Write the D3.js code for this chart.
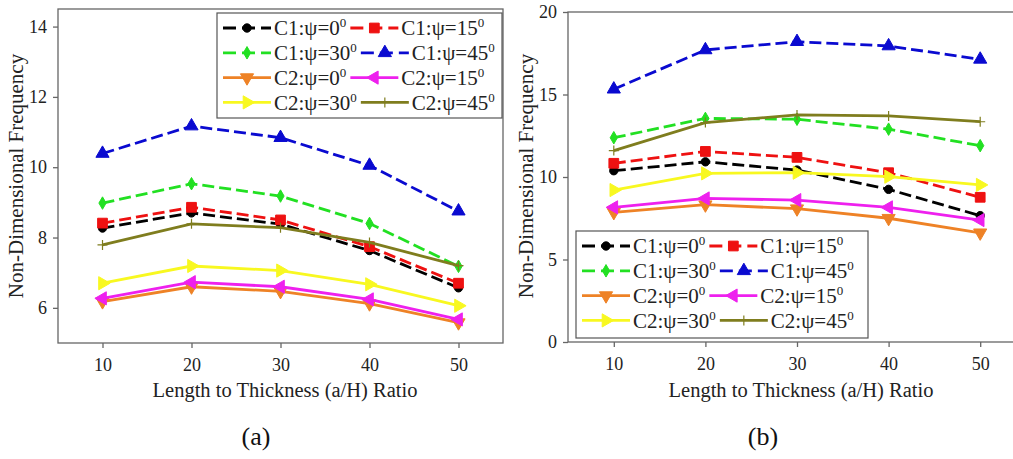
<!DOCTYPE html>
<html>
<head>
<meta charset="utf-8">
<script src="https://cdn.jsdelivr.net/npm/d3@7"></script>
<style>
  body { margin: 0; background: #fff; }
  svg { display: block; font-family: "Liberation Serif", "Times New Roman", serif; }
  .tick text { fill: #222; font-size: 18px; font-family: "Liberation Serif", "Times New Roman", serif; }
  .tick line, .domain { stroke: #666; stroke-width: 1.3; }
</style>
</head>
<body>
<div id="chart"></div>
<script>
const ratios = [10, 20, 30, 40, 50];

// panel (a)
const aC1_0 = [8.27, 8.7, 8.38, 7.63, 6.57];
const aC1_15 = [8.41, 8.86, 8.5, 7.74, 6.7];
const aC1_30 = [8.98, 9.53, 9.18, 8.4, 7.18];
const aC1_45 = [10.39, 11.17, 10.84, 10.05, 8.75];
const aC2_0 = [6.18, 6.6, 6.47, 6.12, 5.58];
const aC2_15 = [6.27, 6.73, 6.6, 6.24, 5.67];
const aC2_30 = [6.7, 7.19, 7.06, 6.67, 6.06];
const aC2_45 = [7.79, 8.39, 8.28, 7.86, 7.2];

// panel (b)
const bC1_0 = [10.38, 10.92, 10.42, 9.25, 7.66];
const bC1_15 = [10.83, 11.55, 11.19, 10.26, 8.77];
const bC1_30 = [12.38, 13.55, 13.5, 12.9, 11.9];
const bC1_45 = [15.32, 17.7, 18.2, 17.94, 17.13];
const bC2_0 = [7.86, 8.32, 8.08, 7.5, 6.62];
const bC2_15 = [8.16, 8.7, 8.6, 8.16, 7.39];
const bC2_30 = [9.21, 10.22, 10.26, 10.02, 9.52];
const bC2_45 = [11.6, 13.3, 13.76, 13.7, 13.35];

const seriesNames = [["C1", "0"], ["C1", "15"], ["C1", "30"], ["C1", "45"],
                     ["C2", "0"], ["C2", "15"], ["C2", "30"], ["C2", "45"]];
const colors = ["#000000", "#ee1111", "#22e022", "#0a0ad0",
                "#ee8226", "#ee20ee", "#f8f820", "#7f7d1e"];
const markers = ["circle", "square", "diamond", "up", "down", "left", "right", "plus"];

const aTicksY = [6, 8, 10, 12, 14];
const bTicksY = [0, 5, 10, 15, 20];

const width = 1013, height = 459;
const svg = d3.select("#chart").append("svg")
  .attr("width", width).attr("height", height);

function markerPath(type) {
  if (type === "plus") return "M-5,0H5M0,-5V5";
  if (type === "circle") return d3.symbol(d3.symbolCircle, 55)();
  if (type === "square") return d3.symbol(d3.symbolSquare, 95)();
  if (type === "diamond") return d3.symbol(d3.symbolDiamond, 45)();
  return d3.symbol(d3.symbolTriangle, 75)();
}
const rot = { up: 0, down: 180, left: -90, right: 90 };

function drawMarker(g, type, color, x, y) {
  const m = g.append("path")
    .attr("d", markerPath(type))
    .attr("transform", `translate(${x},${y}) rotate(${rot[type] || 0})`);
  if (type === "plus") m.attr("fill", "none").attr("stroke", color).attr("stroke-width", 1.2);
  else m.attr("fill", color).attr("stroke", color).attr("stroke-width", 1);
}

function label(text, name) {
  text.append("tspan").text(`${name[0]}:ψ=${name[1]}`);
  text.append("tspan").text("0").attr("font-size", "13px").attr("dy", "-8");
}

function drawPanel(cfg) {
  const x = d3.scaleLinear().domain([5, 55]).range(cfg.xRange);
  const y = d3.scaleLinear().domain(cfg.yDomain).range(cfg.yRange);
  const g = svg.append("g");

  g.append("rect")
    .attr("x", cfg.xRange[0]).attr("y", cfg.yRange[1])
    .attr("width", cfg.xRange[1] - cfg.xRange[0])
    .attr("height", cfg.yRange[0] - cfg.yRange[1])
    .attr("fill", "none").attr("stroke", "#666").attr("stroke-width", 1.3);

  g.append("g").attr("transform", `translate(0,${cfg.yRange[0]})`)
    .call(d3.axisBottom(x).tickValues(ratios).tickSize(5).tickPadding(10))
    .call((a) => a.select(".domain").remove());
  g.append("g").attr("transform", `translate(${cfg.xRange[0]},0)`)
    .call(d3.axisLeft(y).tickValues(cfg.ticksY).tickSize(5).tickPadding(6))
    .call((a) => a.select(".domain").remove());

  g.append("text")
    .attr("x", cfg.titleX)
    .attr("y", 397).attr("text-anchor", "middle")
    .attr("font-size", "20.5px").attr("fill", "#222")
    .text("Length to Thickness (a/H) Ratio");
  g.append("text")
    .attr("transform", `translate(${cfg.yTitleX},176) rotate(-90)`)
    .attr("text-anchor", "middle").attr("dy", "0.35em")
    .attr("font-size", "21px").attr("fill", "#222")
    .text("Non-Dimensional Frequency");
  g.append("text")
    .attr("x", cfg.captionX).attr("y", 445).attr("text-anchor", "middle")
    .attr("font-size", "26px").attr("fill", "#111")
    .text(cfg.caption);

  const line = d3.line().x((d, i) => x(ratios[i])).y((d) => y(d));
  const plot = g.append("g");
  cfg.series.forEach((vals, k) => {
    const dashed = seriesNames[k][0] === "C1";
    plot.append("path")
      .attr("d", line(vals))
      .attr("fill", "none").attr("stroke", colors[k])
      .attr("stroke-width", 2.8)
      .attr("stroke-dasharray", dashed ? "12,5" : null);
    vals.forEach((v, i) => drawMarker(plot, markers[k], colors[k], x(ratios[i]), y(v)));
  });

  // legend, two columns
  const L = cfg.legend;
  const lg = g.append("g");
  lg.append("rect")
    .attr("x", L.x).attr("y", L.y).attr("width", L.w).attr("height", L.h)
    .attr("fill", "#fff").attr("stroke", "#555").attr("stroke-width", 1.2);
  for (let r = 0; r < 4; r++) {
    let cx = L.x + 6;
    const cy = L.y + 15 + r * 24.8;
    for (let c = 0; c < 2; c++) {
      const k = r * 2 + c;
      const dashed = seriesNames[k][0] === "C1";
      lg.append("line")
        .attr("x1", cx).attr("x2", cx + 48).attr("y1", cy).attr("y2", cy)
        .attr("stroke", colors[k]).attr("stroke-width", 2.8)
        .attr("stroke-dasharray", dashed ? "13,6" : null);
      drawMarker(lg, markers[k], colors[k], cx + 24, cy);
      const t = lg.append("text")
        .attr("x", cx + 51).attr("y", cy).attr("dy", "0.35em")
        .attr("font-size", "21px").attr("fill", "#222");
      label(t, seriesNames[k]);
      cx += 51 + t.node().getComputedTextLength() + 4;
    }
  }
}

drawPanel({
  xRange: [58, 503], yRange: [343, 9], yDomain: [5, 14.5], ticksY: aTicksY,
  series: [aC1_0, aC1_15, aC1_30, aC1_45, aC2_0, aC2_15, aC2_30, aC2_45],
  yTitleX: 16, titleX: 285, captionX: 256, caption: "(a)",
  legend: { x: 217, y: 13, w: 285, h: 105 }
});
drawPanel({
  xRange: [568, 1026], yRange: [342, 12], yDomain: [0, 20], ticksY: bTicksY,
  series: [bC1_0, bC1_15, bC1_30, bC1_45, bC2_0, bC2_15, bC2_30, bC2_45],
  yTitleX: 526, titleX: 801, captionX: 763, caption: "(b)",
  legend: { x: 576, y: 231, w: 292, h: 107 }
});
</script>
</body>
</html>
